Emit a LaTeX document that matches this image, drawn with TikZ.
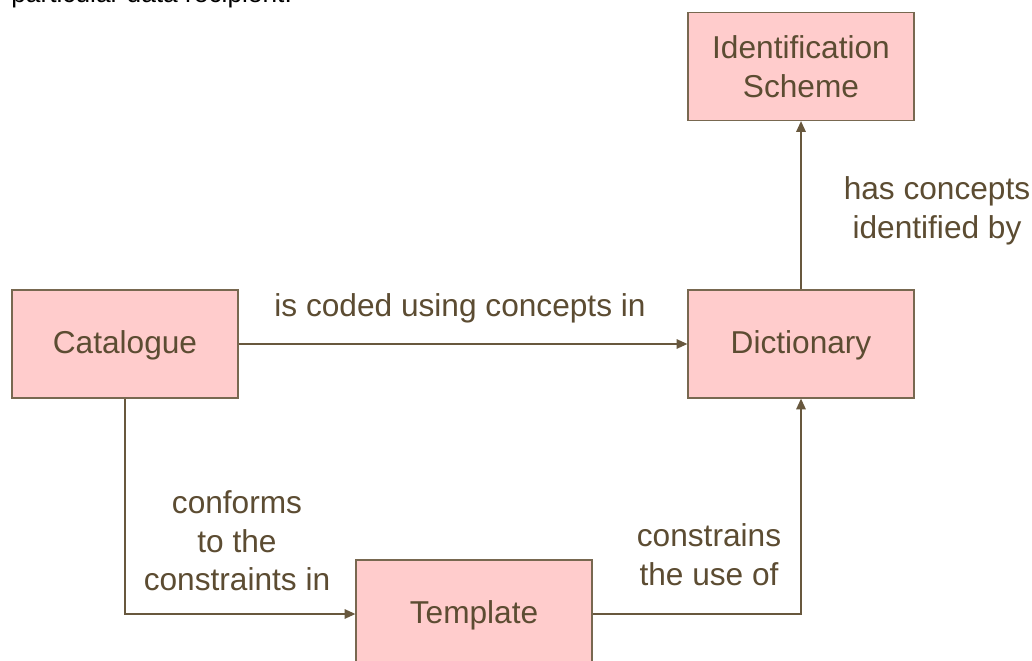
\documentclass[tikz,border=0pt]{standalone}
\usepackage{fontspec}
\setmainfont{Liberation Sans}
\usetikzlibrary{positioning, arrows.meta, calc}
\definecolor{boxfill}{RGB}{255, 204, 204}
\definecolor{boxline}{RGB}{120, 104, 80}
\definecolor{ink}{RGB}{92, 76, 50}
\definecolor{wire}{RGB}{104, 88, 62}

\begin{document}
\begin{tikzpicture}[
    x=0.025cm, y=-0.025cm,
    entity/.style={
        rectangle, fill=boxfill, draw=boxline,
        minimum width=5.65cm, minimum height=2.7cm,
        line width=0.9pt, text=ink, align=center,
        font=\fontsize{22.5}{27.5}\selectfont,
        inner sep=0pt, text depth=0.12cm,
    },
    link/.style={-{Triangle[length=0.27cm, width=0.24cm]}, line width=0.9pt, draw=wire},
    rel/.style={text=ink, align=center, font=\fontsize{22.5}{27.5}\selectfont},
]

% --- Canvas, cut like the slide ---
\clip (0,0) rectangle (1032,661);
\fill[white] (0,0) rectangle (1032,661);

% --- Leftover slide text at the top edge ---
\node[anchor=base west, inner sep=0pt, font=\fontsize{18.7}{22}\selectfont] (remark)
    at (11,3) {particular data recipient.};

% --- Entities ---
\node[entity, text depth=0pt] (ident) at (801,66.5) {Identification\\Scheme};
\node[entity] (cat)   at (125,344)  {Catalogue};
\node[entity] (dict)  at (801,344)  {Dictionary};
\node[entity, minimum width=5.9cm] (tmpl) at (474,614) {Template};

% --- Relationships ---
\draw[link] (cat.east) -- (dict.west);
\draw[link] (dict.north) -- (ident.south);
\draw[link] (cat.south) |- (tmpl.west);
\draw[link] (tmpl.east) -| (dict.south);

% --- Relationship labels ---
\node[rel] (coded)     at (460,308) {is coded using concepts in};
\node[rel] (idby)      at (937,211) {has concepts\\identified by};
\node[rel] (conforms)  at (237,541) {conforms\\to the\\constraints in};
\node[rel] (constrain) at (709,555) {constrains\\the use of};

\end{tikzpicture}
\end{document}
